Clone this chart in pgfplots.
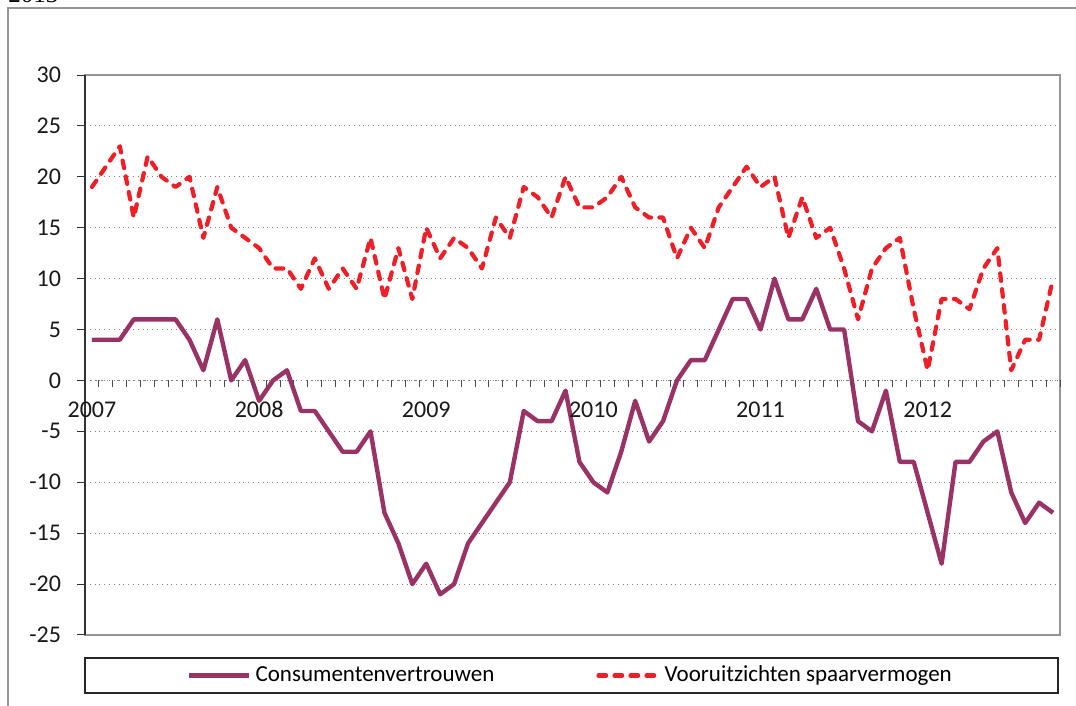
\documentclass[border=0pt]{standalone}
\usepackage{fontspec}
\setmainfont{Carlito}
\newfontfamily\serif{Liberation Serif}
\usepackage{pgfplots}
\usepackage{pgfplotstable}
\pgfplotsset{compat=1.18}

\definecolor{paars}{RGB}{153,51,102}
\definecolor{rood}{RGB}{240,30,38}
\definecolor{kader}{RGB}{150,150,150}

% maand (0 = jan 2007), consumentenvertrouwen, vooruitzichten spaarvermogen
\pgfplotstableread{
m cv vs
0 4 19
1 4 21
2 4 23
3 6 16
4 6 22
5 6 20
6 6 19
7 4 20
8 1 14
9 6 19
10 0 15
11 2 14
12 -2 13
13 0 11
14 1 11
15 -3 9
16 -3 12
17 -5 9
18 -7 11
19 -7 9
20 -5 14
21 -13 8
22 -16 13
23 -20 8
24 -18 15
25 -21 12
26 -20 14
27 -16 13
28 -14 11
29 -12 16
30 -10 14
31 -3 19
32 -4 18
33 -4 16
34 -1 20
35 -8 17
36 -10 17
37 -11 18
38 -7 20
39 -2 17
40 -6 16
41 -4 16
42 0 12
43 2 15
44 2 13
45 5 17
46 8 19
47 8 21
48 5 19
49 10 20
50 6 14
51 6 18
52 9 14
53 5 15
54 5 11
55 -4 6
56 -5 11
57 -1 13
58 -8 14
59 -8 7
60 -13 1
61 -18 8
62 -8 8
63 -8 7
64 -6 11
65 -5 13
66 -11 1
67 -14 4
68 -12 4
69 -13 10
}\data

\begin{document}
\begin{tikzpicture}
\useasboundingbox (-42.5pt,-35.5pt) rectangle (495.5pt,317.5pt);
\draw[kader, line width=0.6pt] (-38.5pt,-40pt) -- (-38.5pt,313.5pt) -- (500pt,313.5pt);
\node[anchor=base west, inner sep=0pt, font=\serif\fontsize{12.5}{14}\selectfont] at (-38.5pt,316pt) {2013};

\begin{axis}[
    at={(0pt,0pt)}, anchor=south west,
    scale only axis,
    width=487.5pt, height=280pt,
    xmin=-0.5, xmax=69.5,
    ymin=-25, ymax=30,
    xtick=\empty,
    ytick={-25,-20,...,30},
    ytick pos=left,
    tick align=outside,
    major tick length=4pt,
    y tick style={black!80, line width=0.5pt},
    axis line style={kader, line width=1pt},
    ymajorgrids,
    y grid style={gray, dotted, line width=0.5pt},
    extra y ticks={0},
    extra y tick labels={},
    extra y tick style={grid=major, major grid style={black, solid, line width=0.7pt}},
    /pgf/number format/assume math mode=true,
    yticklabel style={font=\fontsize{12}{14}\selectfont, text=black!90, xshift=-4.5pt},
    legend columns=2,
    legend style={at={(0.499,-0.0723)}, anchor=center, draw=none, fill=none,
        font=\fontsize{11.5}{13}\selectfont,
        /tikz/every even column/.append style={column sep=49pt}},
    legend image code/.code={\draw[#1] (0pt,0pt) -- (30pt,0pt);},
]
\addplot[paars, line width=2.2pt, line join=round] table[x=m, y=cv] {\data};
\addlegendentry{Consumentenvertrouwen}
\addplot[rood, line width=2.1pt, line join=round, line cap=round,
    dash pattern=on 3.8pt off 4.2pt] table[x=m, y=vs] {\data};
\addlegendentry{Vooruitzichten spaarvermogen}
\end{axis}
\draw[black!80, line width=0.6pt] (0pt,0pt) -- (0pt,280pt);
\draw[black!85, line width=1pt] (0pt,-11.5pt) rectangle (486.5pt,-29pt);

% maandstreepjes en jaartallen langs de nullijn
\begin{axis}[
    at={(0pt,127.2727pt)}, anchor=south west,
    scale only axis,
    width=487.5pt, height=20pt,
    xmin=-0.5, xmax=69.5, ymin=0, ymax=1,
    axis x line=bottom, axis y line=none,
    axis line style={draw=none},
    xtick={0.5,1.5,...,69.5}, xticklabels={},
    tick align=outside,
    major tick length=3.5pt,
    x tick style={black!70, line width=0.5pt},
    extra x ticks={0,12,24,36,48,60},
    extra x tick labels={2007,2008,2009,2010,2011,2012},
    extra x tick style={major tick length=0pt,
        xticklabel style={font=\fontsize{12}{14}\selectfont, text=black!90, yshift=-7pt}},
]
\end{axis}
\end{tikzpicture}
\end{document}
